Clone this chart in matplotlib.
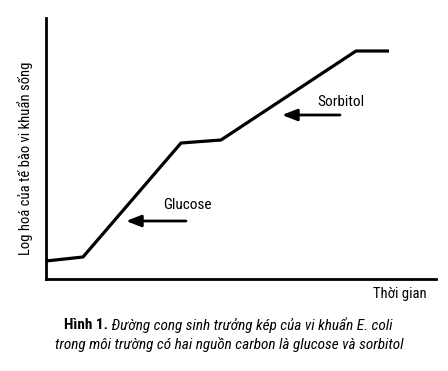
import matplotlib
matplotlib.use("Agg")
import matplotlib.pyplot as plt
from matplotlib import font_manager

co_san = {f.name for f in font_manager.fontManager.ttflist}
ung_vien = ['Roboto Condensed', 'Liberation Sans Narrow', 'Open Sans Condensed', 'Roboto']
font_chinh = next((f for f in ung_vien if f in co_san), 'DejaVu Sans')
plt.rcParams['font.family'] = [font_chinh, 'DejaVu Sans']

# đường cong sinh trưởng kép (đơn vị tùy ý)
thoi_gian = [0, 37, 135, 175, 310, 343]
log_te_bao = [18, 22, 136, 139, 228, 228]

# mũi tên: (đầu, đuôi)
mui_ten_glucose = ((80, 58), (140, 58))
mui_ten_sorbitol = ((236, 164), (294, 164))

fig = plt.figure(figsize=(4.48, 3.71), dpi=100)
ax = fig.add_axes([46 / 448, 92 / 371, 390 / 448, 261 / 371])

ax.plot(thoi_gian, log_te_bao, color='black', linewidth=2.3, solid_capstyle='butt')
ax.set_xlim(0, 390)
ax.set_ylim(0, 261)

for s in ['top', 'right']:
    ax.spines[s].set_visible(False)
for s in ['left', 'bottom']:
    ax.spines[s].set_linewidth(2)
ax.set_xticks([])
ax.set_yticks([])

for dau, duoi in [mui_ten_glucose, mui_ten_sorbitol]:
    ax.annotate('', xy=dau, xytext=duoi,
                arrowprops=dict(arrowstyle='-|>,head_length=0.9,head_width=0.35',
                                color='black', linewidth=2, shrinkA=0, shrinkB=0))

ax.text(117, 74, 'Glucose', fontsize=11, ha='left', va='center')
ax.text(271, 177, 'Sorbitol', fontsize=11, ha='left', va='center')

fig.text(25 / 448, 1 - 158 / 371, 'Log hoá của tế bào vi khuẩn sống', fontsize=10.5,
         rotation=90, ha='center', va='center')
fig.text(427 / 448, 1 - 294 / 371, 'Thời gian', fontsize=10.5, ha='right', va='center')

# chú thích: phần in đậm + phần in nghiêng
fig.canvas.draw()
renderer = fig.canvas.get_renderer()
y1 = 1 - 325 / 371
t_dam = fig.text(0, y1, 'Hình 1.', fontsize=11, fontweight='bold', va='center')
t_nghieng = fig.text(0, y1, ' Đường cong sinh trưởng kép của vi khuẩn E. coli',
                     fontsize=11, style='italic', va='center')
w1 = t_dam.get_window_extent(renderer).width
w2 = t_nghieng.get_window_extent(renderer).width
x0 = 228 - (w1 + w2) / 2
t_dam.set_x(x0 / 448)
t_nghieng.set_x((x0 + w1) / 448)

fig.text(229 / 448, 1 - 345 / 371, 'trong môi trường có hai nguồn carbon là glucose và sorbitol',
         fontsize=11, style='italic', ha='center', va='center')

plt.savefig('out.png', dpi=100)
